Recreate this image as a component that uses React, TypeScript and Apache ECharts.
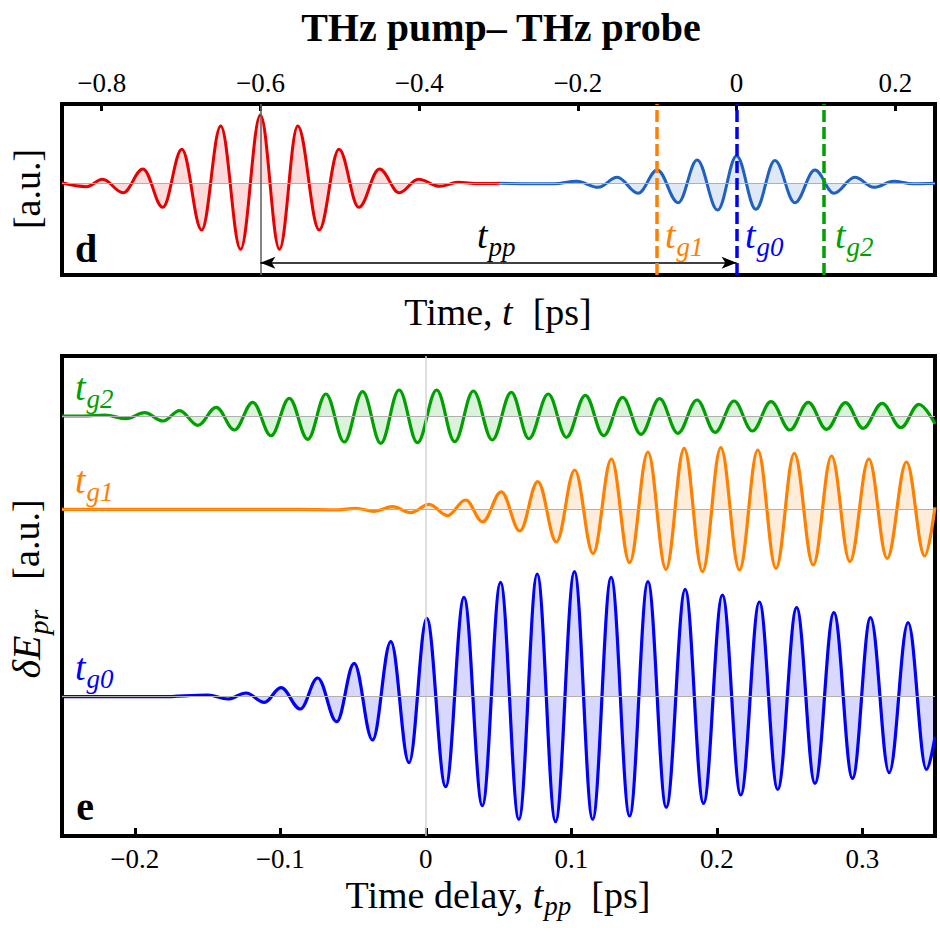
import { useEffect, useRef } from 'react';
import * as echarts from 'echarts';

// ---- Panel d: pump and probe THz transients (time in ps, field in a.u.) ----
const pumpTime = [-0.85, -0.819, -0.799, -0.773, -0.748, -0.723, -0.699, -0.674, -0.65, -0.625, -0.6, -0.576, -0.553, -0.526, -0.501, -0.476, -0.45, -0.425, -0.401, -0.374, -0.351, -0.325, -0.298];
const pumpField = [0.5, -3.4, 4, -9.4, 14.3, -24, 34, -46.7, 57.3, -66, 68.3, -66, 57.3, -46.7, 34, -24, 14.3, -9.4, 4, -3, 1, -0.3, 0];
const probeTime = [-0.298, -0.23, -0.2016, -0.1744, -0.1505, -0.124, -0.1, -0.0736, -0.0497, -0.0239, 0, 0.0243, 0.0483, 0.0735, 0.0987, 0.1226, 0.149, 0.173, 0.198, 0.222, 0.25];
const probeField = [0, -0.5, 2, -4, 6, -10, 13.3, -19.4, 23.3, -26.7, 27.3, -26, 22.7, -19.4, 13.3, -10, 6, -4, 2, -0.5, 0];

// gate times (ps) marked by dashed lines
const gateNames = ['g1', 'g0', 'g2'];
const gateTimes = [-0.1, 0, 0.113];
const pumpPeakTime = -0.6;

const topTicks = [-0.8, -0.6, -0.4, -0.2, 0, 0.2];
const bottomTicks = [-0.2, -0.1, 0, 0.1, 0.2, 0.3];

// ---- Panel e: probe field change vs pump-probe delay, one trace per gate ----
const g2Delay = [-0.25, -0.235, -0.2206, -0.2058, -0.1932, -0.1806, -0.1692, -0.1566, -0.144, -0.1315, -0.1189, -0.1063, -0.0938, -0.0811, -0.0686, -0.056, -0.0434, -0.0309, -0.0183, -0.0057, 0.0075, 0.0199, 0.0327, 0.0457, 0.0588, 0.0709, 0.0842, 0.0967, 0.1097, 0.1223, 0.1353, 0.1479, 0.1607, 0.1733, 0.1864, 0.1989, 0.2119, 0.2245, 0.2373, 0.2503, 0.2629, 0.2755, 0.2885, 0.3006, 0.3137, 0.3265, 0.339, 0.35];
const g2Signal = [0, 0, 1, -2.7, 3.3, -5, 5.3, -9.3, 8.7, -14, 13.7, -19.7, 17.7, -23.3, 22, -26, 24.3, -27.3, 26, -26.7, 26, -25.7, 25, -24, 23.7, -22.7, 22, -21.3, 20.7, -19.7, 18.7, -18.3, 17.3, -17.3, 16, -16.3, 15, -15, 14.3, -14, 13.7, -13.3, 13.3, -12.3, 12.7, -11.7, 11.7, -8];

const g1Delay = [-0.25, -0.0857, -0.0606, -0.048, -0.0355, -0.0228, -0.0103, 0.0023, 0.0149, 0.0274, 0.0391, 0.0519, 0.0647, 0.077, 0.0898, 0.1024, 0.115, 0.1276, 0.1401, 0.1527, 0.1651, 0.1776, 0.1902, 0.2028, 0.2156, 0.2282, 0.2407, 0.2533, 0.2663, 0.2789, 0.2915, 0.3045, 0.3171, 0.3304, 0.3429, 0.35];
const g1Signal = [0, 0, -0.5, 1, -2, 2.7, -3.3, 5, -6.3, 9.3, -12.5, 17.5, -21.7, 27.7, -32.7, 39.3, -44.3, 50.3, -53.3, 57.3, -60, 61, -62.3, 61.7, -60.7, 59.3, -59, 56, -55.7, 53.3, -52.3, 50.3, -49, 47.3, -46.7, 2];

const g0Delay = [-0.25, -0.1818, -0.1497, -0.136, -0.1235, -0.1109, -0.0995, -0.0862, -0.0743, -0.0612, -0.0492, -0.0366, -0.024, -0.0115, 0.0007, 0.0137, 0.0263, 0.0389, 0.0514, 0.064, 0.0766, 0.0892, 0.1022, 0.1147, 0.1274, 0.1401, 0.1527, 0.1653, 0.1783, 0.1909, 0.2039, 0.2165, 0.2293, 0.2419, 0.2549, 0.2675, 0.2805, 0.2933, 0.3057, 0.3185, 0.3315, 0.3441, 0.35];
const g0Signal = [0, 0, 1.7, -2.3, 3.7, -5.7, 9, -12.3, 18.7, -25, 33.3, -43.3, 55, -66, 78.3, -90, 99.3, -109, 114.3, -122.7, 122.7, -125, 125, -122.7, 119.3, -119.3, 115, -110.7, 107.3, -106.7, 101.7, -98.3, 94.7, -92.7, 89, -86.7, 84, -81.7, 79, -76, 74, -72.7, -40];

// ---- styling / layout ----
const SERIF = '"Liberation Serif", "Times New Roman", Times, serif';
const RED = '#e60000';
const PROBE_BLUE = '#1f60c0';
const ORANGE = '#ff8000';
const BLUE = '#0000ff';
const GREEN = '#00a000';
const gateColors = [ORANGE, BLUE, GREEN];

const TOP = { left: 62, top: 104, width: 873, height: 171, baseline: 183.3 };
const BOT = { left: 62, top: 356, width: 873, height: 480 };
// baseline pixel row of each trace in panel e (g2, g1, g0)
const traceBaselines = [416, 509.3, 696.7];
const arrowLevel = -79.4;

const fmt = (v: number) => (v < 0 ? '\u2212' + Math.abs(v) : String(v));
const zip = (xs: number[], ys: number[]) => xs.map((x, i) => [x, ys[i]]);

const subLabel = (left: number, midY: number, base: string, sub: string, color: string, bs: number, ss: number) => ({
  type: 'text',
  x: left,
  y: midY,
  silent: true,
  style: {
    text: `{b|${base}}{s|${sub}}`,
    align: 'left',
    verticalAlign: 'middle',
    textAlign: 'left',
    textVerticalAlign: 'middle',
    fontFamily: SERIF,
    fontSize: bs,
    fill: color,
    rich: {
      b: { fontFamily: SERIF, fontStyle: 'italic', fontSize: bs, fill: color },
      s: { fontFamily: SERIF, fontStyle: 'italic', fontSize: ss, fill: color, padding: [24, 0, 0, 1] },
    },
  },
});

const plainText = (x: number, y: number, text: string, size: number, weight: string, extra: any = {}) => ({
  type: 'text',
  x,
  y,
  silent: true,
  ...extra,
  style: {
    text,
    align: 'center',
    verticalAlign: 'middle',
    textAlign: 'center',
    textVerticalAlign: 'middle',
    fontFamily: SERIF,
    fontSize: size,
    fontWeight: weight,
    fill: '#000',
  },
});

export default function App() {
  const ref = useRef<HTMLDivElement>(null);

  useEffect(() => {
    if (!ref.current) return;
    const chart = echarts.init(ref.current, null, { renderer: 'svg' });

    const lineBase = {
      type: 'line',
      smooth: 0.37,
      smoothMonotone: 'x',
      symbol: 'none',
      showSymbol: false,
      silent: true,
      animation: false,
    };

    const botGrid = { left: BOT.left, top: BOT.top, width: BOT.width, height: BOT.height };

    const hiddenX = (gi: number) => ({ type: 'value', gridIndex: gi, min: -0.25, max: 0.35, show: false });

    const option: any = {
      animation: false,
      grid: [
        { left: TOP.left, top: TOP.top, width: TOP.width, height: TOP.height, show: true, borderColor: '#000', borderWidth: 4, backgroundColor: 'transparent' },
        { ...botGrid },
        { ...botGrid },
        { ...botGrid, show: true, borderColor: '#000', borderWidth: 4, backgroundColor: 'transparent' },
      ],
      xAxis: [
        {
          type: 'value',
          gridIndex: 0,
          position: 'top',
          min: -0.85,
          max: 0.25,
          axisLine: { show: false, onZero: false },
          splitLine: { show: false },
          axisTick: { show: true, inside: true, length: 7, lineStyle: { width: 3, color: '#000' }, customValues: topTicks },
          axisLabel: { customValues: topTicks, formatter: fmt, margin: 8, fontSize: 27, fontFamily: SERIF, color: '#000' },
        },
        hiddenX(1),
        hiddenX(2),
        {
          type: 'value',
          gridIndex: 3,
          position: 'bottom',
          min: -0.25,
          max: 0.35,
          axisLine: { show: false, onZero: false },
          splitLine: { show: false },
          axisTick: { show: true, inside: true, length: 8, lineStyle: { width: 3, color: '#000' }, customValues: bottomTicks },
          axisLabel: { customValues: bottomTicks, formatter: fmt, margin: 9, fontSize: 27, fontFamily: SERIF, color: '#000' },
        },
      ],
      yAxis: [
        { type: 'value', gridIndex: 0, min: -(TOP.top + TOP.height - TOP.baseline), max: TOP.baseline - TOP.top, show: false },
        ...traceBaselines.map((b, i) => ({
          type: 'value',
          gridIndex: i + 1,
          min: -(BOT.top + BOT.height - b),
          max: b - BOT.top,
          show: false,
        })),
      ],
      series: [
        {
          ...lineBase,
          name: 'pump',
          xAxisIndex: 0,
          yAxisIndex: 0,
          data: zip(pumpTime, pumpField),
          lineStyle: { color: RED, width: 3 },
          areaStyle: { color: 'rgba(230,0,0,0.2)' },
          z: 3,
          markLine: {
            silent: true,
            symbol: 'none',
            animation: false,
            label: { show: false },
            data: [
              { yAxis: 0, lineStyle: { color: '#b0b0b0', width: 1.2, type: 'solid' } },
              { xAxis: pumpPeakTime, lineStyle: { color: '#666', width: 1.6, type: 'solid' } },
              [
                { coord: [pumpPeakTime, arrowLevel], symbol: 'arrow', symbolSize: [9, 15] },
                { coord: [gateTimes[1], arrowLevel], symbol: 'arrow', symbolSize: [9, 15], lineStyle: { color: '#000', width: 1.6, type: 'solid' } },
              ],
            ],
          },
        },
        {
          ...lineBase,
          name: 'probe',
          xAxisIndex: 0,
          yAxisIndex: 0,
          data: zip(probeTime, probeField),
          lineStyle: { color: PROBE_BLUE, width: 3 },
          areaStyle: { color: 'rgba(31,96,192,0.2)' },
          z: 3,
          markLine: {
            silent: true,
            symbol: 'none',
            animation: false,
            label: { show: false },
            data: gateTimes.map((t, i) => ({
              xAxis: t,
              lineStyle: { color: gateColors[i], width: 3.5, type: [12, 5] },
            })),
          },
        },
        {
          ...lineBase,
          name: 't_g2',
          xAxisIndex: 1,
          yAxisIndex: 1,
          data: zip(g2Delay, g2Signal),
          lineStyle: { color: GREEN, width: 3.2 },
          areaStyle: { color: 'rgba(0,160,0,0.2)' },
          markLine: {
            silent: true,
            symbol: 'none',
            animation: false,
            label: { show: false },
            data: [
              { xAxis: 0, lineStyle: { color: '#d4d4d4', width: 1.5, type: 'solid' } },
              { yAxis: 0, lineStyle: { color: '#b0b0b0', width: 1.2, type: 'solid' } },
            ],
          },
        },
        {
          ...lineBase,
          name: 't_g1',
          xAxisIndex: 2,
          yAxisIndex: 2,
          data: zip(g1Delay, g1Signal),
          lineStyle: { color: ORANGE, width: 3.2 },
          areaStyle: { color: 'rgba(255,128,0,0.2)' },
          markLine: {
            silent: true,
            symbol: 'none',
            animation: false,
            label: { show: false },
            data: [{ yAxis: 0, lineStyle: { color: '#b0b0b0', width: 1.2, type: 'solid' } }],
          },
        },
        {
          ...lineBase,
          name: 't_g0',
          xAxisIndex: 3,
          yAxisIndex: 3,
          data: zip(g0Delay, g0Signal),
          lineStyle: { color: BLUE, width: 3.2 },
          areaStyle: { color: 'rgba(0,0,255,0.22)' },
          markLine: {
            silent: true,
            symbol: 'none',
            animation: false,
            label: { show: false },
            data: [{ yAxis: 0, lineStyle: { color: '#b0b0b0', width: 1.2, type: 'solid' } }],
          },
        },
      ],
      graphic: [
        plainText(501, 27, 'THz pump\u2013 THz probe', 40, 'bold'),
        plainText(27, 189, '[a.u.]', 38, 'normal', { rotation: Math.PI / 2 }),
        {
          type: 'text',
          x: 498,
          y: 312,
          silent: true,
          style: {
            text: '{n|Time, }{i|t}{p|[ps]}',
            align: 'center',
            verticalAlign: 'middle',
            textAlign: 'center',
            textVerticalAlign: 'middle',
            fontFamily: SERIF,
            fontSize: 38,
            fill: '#000',
            rich: {
              n: { fontFamily: SERIF, fontSize: 38, fill: '#000' },
              i: { fontFamily: SERIF, fontSize: 38, fontStyle: 'italic', fill: '#000' },
              p: { fontFamily: SERIF, fontSize: 38, fill: '#000', padding: [0, 0, 0, 20] },
            },
          },
        },
        plainText(86, 248, 'd', 40, 'bold'),
        plainText(85, 806, 'e', 40, 'bold'),
        subLabel(477, 235, 't', 'pp', '#000', 38, 27),
        ...gateNames.map((g, i) => subLabel([665, 745, 835][i], 235, 't', g, gateColors[i], 38, 27)),
        subLabel(75, 387, 't', 'g2', GREEN, 38, 27),
        subLabel(75, 480, 't', 'g1', ORANGE, 38, 27),
        subLabel(75, 667, 't', 'g0', BLUE, 38, 27),
        {
          type: 'text',
          x: 26,
          y: 589,
          rotation: Math.PI / 2,
          silent: true,
          style: {
            text: '{i|\u03b4E}{s|pr}{p|[a.u.]}',
            align: 'center',
            verticalAlign: 'middle',
            textAlign: 'center',
            textVerticalAlign: 'middle',
            fontFamily: SERIF,
            fontSize: 38,
            fill: '#000',
            rich: {
              i: { fontFamily: SERIF, fontSize: 40, fontStyle: 'italic', fill: '#000' },
              s: { fontFamily: SERIF, fontSize: 28, fontStyle: 'italic', fill: '#000', padding: [24, 0, 0, 1] },
              p: { fontFamily: SERIF, fontSize: 38, fill: '#000', padding: [0, 0, 0, 30] },
            },
          },
        },
        {
          type: 'text',
          x: 498,
          y: 895,
          silent: true,
          style: {
            text: '{n|Time delay, }{i|t}{s|pp}{p|[ps]}',
            align: 'center',
            verticalAlign: 'middle',
            textAlign: 'center',
            textVerticalAlign: 'middle',
            fontFamily: SERIF,
            fontSize: 38,
            fill: '#000',
            rich: {
              n: { fontFamily: SERIF, fontSize: 38, fill: '#000' },
              i: { fontFamily: SERIF, fontSize: 38, fontStyle: 'italic', fill: '#000' },
              s: { fontFamily: SERIF, fontSize: 27, fontStyle: 'italic', fill: '#000', padding: [22, 0, 0, 1] },
              p: { fontFamily: SERIF, fontSize: 38, fill: '#000', padding: [0, 0, 0, 20] },
            },
          },
        },
      ],
    };

    chart.setOption(option);
    return () => chart.dispose();
  }, []);

  return <div ref={ref} style={{ position: 'fixed', left: 0, top: 0, width: 940, height: 932, background: '#fff' }} />;
}
